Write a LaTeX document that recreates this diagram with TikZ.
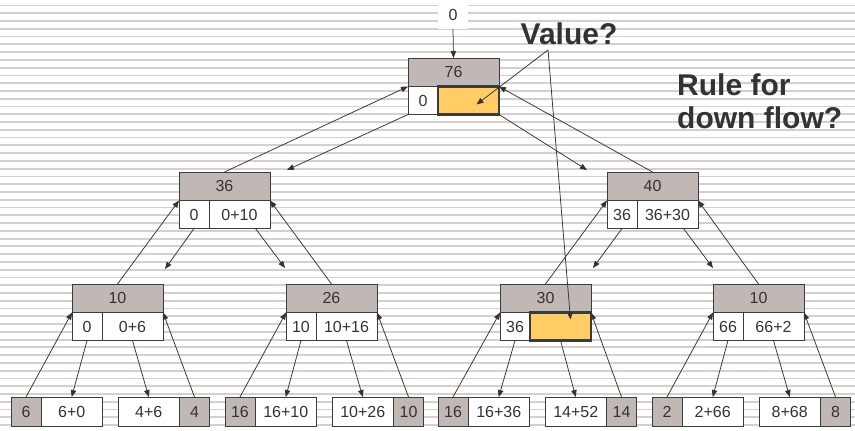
\documentclass[tikz,border=0pt]{standalone}
\usepackage{fontspec}
\setmainfont{Liberation Sans}
\usetikzlibrary{arrows.meta,calc}
\definecolor{grayc}{RGB}{192,184,181}
\definecolor{orangec}{RGB}{255,204,102}
\definecolor{edgec}{RGB}{60,60,60}
\definecolor{txt}{RGB}{51,51,51}
\definecolor{bgline}{RGB}{214,207,205}
\tikzset{
  cell/.style={draw=edgec, line width=0.8pt, inner sep=0pt, outer sep=0pt, text=txt, font=\fontsize{16}{18}\selectfont},
  topcell/.style={cell, fill=grayc, minimum width=91pt, minimum height=28.5pt},
  smallw/.style={cell, fill=white, minimum width=30pt, minimum height=28pt},
  bigw/.style={cell, fill=white, minimum width=61pt, minimum height=28pt},
  bigo/.style={cell, fill=orangec, line width=2.4pt, minimum width=61pt, minimum height=28pt},
  leafg/.style={cell, fill=grayc, minimum width=30pt, minimum height=29pt},
  leafw/.style={cell, fill=white, minimum width=61.5pt, minimum height=29pt},
  conn/.style={draw=txt, line width=0.75pt, -{Triangle[length=7pt,width=5.5pt]}},
  bigtext/.style={text=txt, font=\fontsize{30}{34}\selectfont\bfseries, inner sep=0pt},
  bgrule/.style={draw=bgline, line width=1.8pt}
}
\begin{document}
\begin{tikzpicture}[x=1pt,y=-1pt]
\useasboundingbox (0,0) rectangle (855,431);
\fill[white] (0,0) rectangle (855,431);
\foreach \k in {0,...,54} \draw[bgrule] (0,5.5+7.77*\k) -- (855,5.5+7.77*\k);

% root
\node[topcell, anchor=north west] (rg) at (408,58) {76};
\node[smallw, anchor=north west] (rl) at (rg.south west) {0};
\node[text=txt, font=\fontsize{16}{18}\selectfont, fill=white, minimum width=30pt, minimum height=28pt, inner sep=0pt] (top0) at (453,15) {0};

% level 2
\node[topcell, anchor=north west] (ag) at (179,172) {36};
\node[smallw, anchor=north west] (al) at (ag.south west) {0};
\node[bigw, anchor=north east] (ar) at (ag.south east) {0+10};
\node[topcell, anchor=north west] (bg) at (607,172) {40};
\node[smallw, anchor=north west] (bl) at (bg.south west) {36};
\node[bigw, anchor=north east] (br) at (bg.south east) {36+30};

% level 3
\node[topcell, anchor=north west] (cg) at (72,284) {10};
\node[smallw, anchor=north west] (cl) at (cg.south west) {0};
\node[bigw, anchor=north east] (cr) at (cg.south east) {0+6};
\node[topcell, anchor=north west] (dg) at (286,284) {26};
\node[smallw, anchor=north west] (dl) at (dg.south west) {10};
\node[bigw, anchor=north east] (dr) at (dg.south east) {10+16};
\node[topcell, anchor=north west] (eg) at (500,284) {30};
\node[smallw, anchor=north west] (el) at (eg.south west) {36};
\node[topcell, anchor=north west] (fg) at (713,284) {10};
\node[smallw, anchor=north west] (fl) at (fg.south west) {66};
\node[bigw, anchor=north east] (fr) at (fg.south east) {66+2};

% orange cells on top
\node[bigo, anchor=north east] (rr) at (rg.south east) {};
\node[bigo, anchor=north east] (er) at (eg.south east) {};

% leaves
\node[leafg, anchor=north west] (l1g) at (11,397) {6};
\node[leafw, anchor=west] (l1w) at (l1g.east) {6+0};
\node[leafw, anchor=north west] (l2w) at (118,397) {4+6};
\node[leafg, anchor=west] (l2g) at (l2w.east) {4};
\node[leafg, anchor=north west] (l3g) at (225,397) {16};
\node[leafw, anchor=west] (l3w) at (l3g.east) {16+10};
\node[leafw, anchor=north west] (l4w) at (332,397) {10+26};
\node[leafg, anchor=west] (l4g) at (l4w.east) {10};
\node[leafg, anchor=north west] (l5g) at (438,397) {16};
\node[leafw, anchor=west] (l5w) at (l5g.east) {16+36};
\node[leafw, anchor=north west] (l6w) at (545,397) {14+52};
\node[leafg, anchor=west] (l6g) at (l6w.east) {14};
\node[leafg, anchor=north west] (l7g) at (652,397) {2};
\node[leafw, anchor=west] (l7w) at (l7g.east) {2+66};
\node[leafw, anchor=north west] (l8w) at (759,397) {8+68};
\node[leafg, anchor=west] (l8g) at (l8w.east) {8};

% texts
\node[bigtext, anchor=base] (val) at (569,44) {Value?};
\node[bigtext, anchor=base west] (rule1) at (677,95) {Rule for};
\node[bigtext, anchor=base west] (rule2) at (677,128) {down flow?};

% free ends
\coordinate (t1) at (287,170);
\coordinate (t2) at (587,170);
\coordinate (t3) at (165,269);
\coordinate (t4) at (285,268);
\coordinate (t5) at (593,268);
\coordinate (t6) at (713,268);
\coordinate (v) at (548,50);

% root connectors
\draw[conn] (top0.south) -- (rg.north);
\draw[conn] (ag.north) -- (rg.south west);
\draw[conn] (bg.north) -- (rg.south east);
\draw[conn] (rl.south west) -- (t1);
\draw[conn] (rr.south east) -- (t2);

% level 2 connectors
\draw[conn] (al.south) -- (t3);
\draw[conn] ($(ar.south)+(16,0)$) -- (t4);
\draw[conn] (bl.south) -- (t5);
\draw[conn] ($(br.south)+(16,0)$) -- (t6);
\draw[conn] (cg.north) -- (ag.south west);
\draw[conn] (dg.north) -- (ag.south east);
\draw[conn] (eg.north) -- (bg.south west);
\draw[conn] (fg.north) -- (bg.south east);

% level 3 connectors
\draw[conn] (cl.south) -- (l1w.north);
\draw[conn] (cr.south) -- (l2w.north);
\draw[conn] (l1g.north) -- (cg.south west);
\draw[conn] (l2g.north) -- (cg.south east);
\draw[conn] (dl.south) -- (l3w.north);
\draw[conn] (dr.south) -- (l4w.north);
\draw[conn] (l3g.north) -- (dg.south west);
\draw[conn] (l4g.north) -- (dg.south east);
\draw[conn] (el.south) -- (l5w.north);
\draw[conn] (er.south) -- (l6w.north);
\draw[conn] (l5g.north) -- (eg.south west);
\draw[conn] (l6g.north) -- (eg.south east);
\draw[conn] (fl.south) -- (l7w.north);
\draw[conn] (fr.south) -- (l8w.north);
\draw[conn] (l7g.north) -- (fg.south west);
\draw[conn] (l8g.north) -- (fg.south east);

% value pointers
\draw[conn] (v) -- ($(rr.center)+(8,4)$);
\draw[conn] (v) -- ($(er.center)+(10,-7)$);
\end{tikzpicture}
\end{document}
